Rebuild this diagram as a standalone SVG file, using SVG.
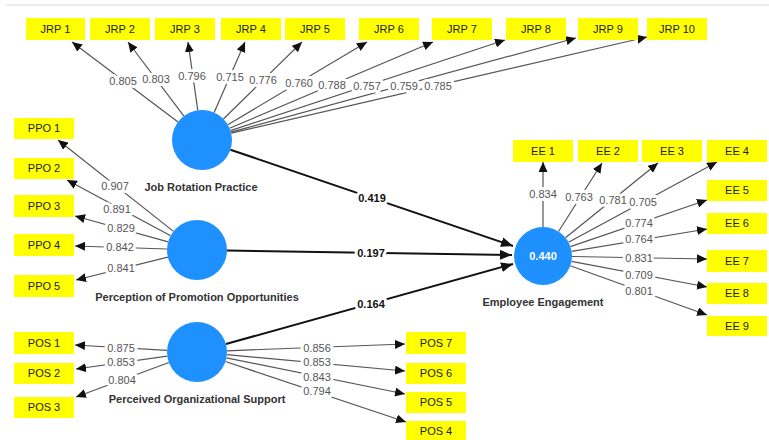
<svg xmlns="http://www.w3.org/2000/svg" width="769" height="440" viewBox="0 0 769 440">
<style>
.box{fill:#ffff00}
.bt{font-family:"Liberation Sans",Arial,sans-serif;font-size:11px;fill:#222;text-anchor:middle}
.lv{fill:#1e90ff}
.ln{font-family:"Liberation Sans",Arial,sans-serif;font-size:11px;font-weight:bold;fill:#333;text-anchor:middle}
.o{stroke:#555;stroke-width:1.2;fill:none;marker-end:url(#a)}
.s{stroke:#111;stroke-width:2;fill:none;marker-end:url(#b)}
.w{font-family:"Liberation Sans",Arial,sans-serif;font-size:11px;fill:#555;text-anchor:middle;stroke:#fff;stroke-width:6;stroke-linejoin:round;paint-order:stroke}
.wb{font-family:"Liberation Sans",Arial,sans-serif;font-size:11px;font-weight:bold;fill:#111;text-anchor:middle;stroke:#fff;stroke-width:6;stroke-linejoin:round;paint-order:stroke}
</style>
<defs>
<marker id="a" markerUnits="userSpaceOnUse" markerWidth="10" markerHeight="9" refX="10" refY="4.5" orient="auto"><path d="M0,0 L10,4.5 L0,9 z" fill="#111"/></marker>
<marker id="b" markerUnits="userSpaceOnUse" markerWidth="12" markerHeight="10" refX="12" refY="5" orient="auto"><path d="M0,0 L12,5 L0,10 z" fill="#111"/></marker>
</defs>
<rect width="769" height="440" fill="#fff"/>
<line x1="6" y1="5" x2="769" y2="5" stroke="#ececec" stroke-width="2"/>
<g id="connectors">
<line class="o" x1="178" y1="121.9" x2="72" y2="42"/>
<line class="o" x1="183.9" y1="116.1" x2="128" y2="42"/>
<line class="o" x1="197.8" y1="110.3" x2="188" y2="42"/>
<line class="o" x1="214.1" y1="112.5" x2="245" y2="42"/>
<line class="o" x1="223.4" y1="119" x2="302" y2="42"/>
<line class="o" x1="227.8" y1="124.7" x2="367" y2="42"/>
<line class="o" x1="229.6" y1="128.3" x2="433" y2="42"/>
<line class="o" x1="230.5" y1="130.6" x2="505" y2="40"/>
<line class="o" x1="230.9" y1="132.1" x2="576" y2="38"/>
<line class="o" x1="231.2" y1="133.2" x2="647" y2="37"/>
<line class="o" x1="173.5" y1="231.4" x2="58" y2="140"/>
<line class="o" x1="170.6" y1="235.8" x2="67" y2="180"/>
<line class="o" x1="168.1" y1="241.9" x2="75" y2="216"/>
<line class="o" x1="167" y1="249" x2="75" y2="246"/>
<line class="o" x1="167.9" y1="257.2" x2="76" y2="280"/>
<line class="o" x1="167.1" y1="350.3" x2="75" y2="345"/>
<line class="o" x1="167.3" y1="356.2" x2="76" y2="369"/>
<line class="o" x1="168.9" y1="362.5" x2="76" y2="397"/>
<line class="o" x1="227" y1="350.8" x2="405" y2="344"/>
<line class="o" x1="226.9" y1="354.7" x2="405" y2="371"/>
<line class="o" x1="226.4" y1="357.9" x2="405" y2="394"/>
<line class="o" x1="225.4" y1="361.5" x2="406" y2="422"/>
<line class="o" x1="543" y1="227" x2="543" y2="162"/>
<line class="o" x1="558.5" y1="231.5" x2="602" y2="163"/>
<line class="o" x1="565.5" y1="237.8" x2="658" y2="163"/>
<line class="o" x1="568.5" y1="242.2" x2="717" y2="162"/>
<line class="o" x1="570.4" y1="246.6" x2="707" y2="200"/>
<line class="o" x1="571.6" y1="251.3" x2="707" y2="229"/>
<line class="o" x1="572" y1="256.5" x2="707" y2="259"/>
<line class="o" x1="571.5" y1="261.4" x2="707" y2="287"/>
<line class="o" x1="570.3" y1="265.8" x2="707" y2="315"/>
<line class="s" x1="230.4" y1="149.7" x2="513" y2="246"/>
<line class="s" x1="227" y1="250.5" x2="512" y2="255"/>
<line class="s" x1="225.9" y1="344" x2="513" y2="264"/>
<text class="w" x="123" y="85">0.805</text>
<text class="w" x="156" y="83">0.803</text>
<text class="w" x="192" y="80">0.796</text>
<text class="w" x="230" y="81">0.715</text>
<text class="w" x="263" y="84">0.776</text>
<text class="w" x="299" y="87">0.760</text>
<text class="w" x="332" y="89">0.788</text>
<text class="w" x="367" y="90">0.757</text>
<text class="w" x="404" y="90">0.759</text>
<text class="w" x="438" y="90">0.785</text>
<text class="w" x="115" y="190">0.907</text>
<text class="w" x="117" y="213">0.891</text>
<text class="w" x="121" y="232">0.829</text>
<text class="w" x="120" y="251">0.842</text>
<text class="w" x="121" y="272">0.841</text>
<text class="w" x="121" y="352">0.875</text>
<text class="w" x="121" y="366">0.853</text>
<text class="w" x="122" y="384">0.804</text>
<text class="w" x="317" y="352">0.856</text>
<text class="w" x="317" y="366">0.853</text>
<text class="w" x="317" y="381">0.843</text>
<text class="w" x="317" y="395">0.794</text>
<text class="w" x="543" y="198">0.834</text>
<text class="w" x="579" y="201">0.763</text>
<text class="w" x="613" y="204">0.781</text>
<text class="w" x="643" y="206">0.705</text>
<text class="w" x="639" y="227">0.774</text>
<text class="w" x="639" y="243">0.764</text>
<text class="w" x="639" y="262">0.831</text>
<text class="w" x="639" y="279">0.709</text>
<text class="w" x="639" y="295">0.801</text>
<text class="wb" x="372" y="202">0.419</text>
<text class="wb" x="371" y="257">0.197</text>
<text class="wb" x="371" y="308">0.164</text>
</g>
<g id="JRP"><circle class="lv" cx="202" cy="140" r="30"/><text class="ln" x="201" y="191">Job Rotation Practice</text></g>
<g id="PPO"><circle class="lv" cx="197" cy="250" r="30"/><text class="ln" x="197" y="301">Perception of Promotion Opportunities</text></g>
<g id="POS"><circle class="lv" cx="197" cy="352" r="30"/><text class="ln" x="197" y="403">Perceived Organizational Support</text></g>
<g id="EE"><circle class="lv" cx="543" cy="256" r="29"/><text x="543" y="260" font-family="Liberation Sans,Arial,sans-serif" font-size="11" font-weight="bold" fill="#fff" text-anchor="middle">0.440</text><text class="ln" x="543" y="306">Employee Engagement</text></g>
<g id="JRP1"><rect class="box" x="26" y="18" width="59" height="22"/><text class="bt" x="55.5" y="33">JRP 1</text></g>
<g id="JRP2"><rect class="box" x="90" y="18" width="60" height="22"/><text class="bt" x="120" y="33">JRP 2</text></g>
<g id="JRP3"><rect class="box" x="155" y="18" width="60" height="22"/><text class="bt" x="185" y="33">JRP 3</text></g>
<g id="JRP4"><rect class="box" x="221" y="18" width="60" height="22"/><text class="bt" x="251" y="33">JRP 4</text></g>
<g id="JRP5"><rect class="box" x="285" y="18" width="60" height="22"/><text class="bt" x="315" y="33">JRP 5</text></g>
<g id="JRP6"><rect class="box" x="359" y="18" width="60" height="22"/><text class="bt" x="389" y="33">JRP 6</text></g>
<g id="JRP7"><rect class="box" x="432" y="18" width="60" height="22"/><text class="bt" x="462" y="33">JRP 7</text></g>
<g id="JRP8"><rect class="box" x="506" y="18" width="60" height="22"/><text class="bt" x="536" y="33">JRP 8</text></g>
<g id="JRP9"><rect class="box" x="578" y="18" width="60" height="22"/><text class="bt" x="608" y="33">JRP 9</text></g>
<g id="JRP10"><rect class="box" x="647" y="18" width="60" height="22"/><text class="bt" x="677" y="33">JRP 10</text></g>
<g id="PPO1"><rect class="box" x="14" y="118" width="60" height="21"/><text class="bt" x="44" y="132">PPO 1</text></g>
<g id="PPO2"><rect class="box" x="14" y="158" width="60" height="21"/><text class="bt" x="44" y="172">PPO 2</text></g>
<g id="PPO3"><rect class="box" x="14" y="195" width="60" height="22"/><text class="bt" x="44" y="210">PPO 3</text></g>
<g id="PPO4"><rect class="box" x="14" y="234" width="60" height="22"/><text class="bt" x="44" y="249">PPO 4</text></g>
<g id="PPO5"><rect class="box" x="14" y="275" width="60" height="22"/><text class="bt" x="44" y="290">PPO 5</text></g>
<g id="POS1"><rect class="box" x="14" y="332" width="60" height="22"/><text class="bt" x="44" y="347">POS 1</text></g>
<g id="POS2"><rect class="box" x="14" y="363" width="60" height="21"/><text class="bt" x="44" y="377">POS 2</text></g>
<g id="POS3"><rect class="box" x="14" y="397" width="60" height="21"/><text class="bt" x="44" y="411">POS 3</text></g>
<g id="POS7"><rect class="box" x="406" y="332" width="60" height="22"/><text class="bt" x="436" y="347">POS 7</text></g>
<g id="POS6"><rect class="box" x="406" y="363" width="60" height="21"/><text class="bt" x="436" y="377">POS 6</text></g>
<g id="POS5"><rect class="box" x="406" y="392" width="60" height="21"/><text class="bt" x="436" y="406">POS 5</text></g>
<g id="POS4"><rect class="box" x="406" y="421" width="60" height="21"/><text class="bt" x="436" y="435">POS 4</text></g>
<g id="EE1"><rect class="box" x="513" y="140" width="60" height="22"/><text class="bt" x="543" y="155">EE 1</text></g>
<g id="EE2"><rect class="box" x="578" y="140" width="60" height="22"/><text class="bt" x="608" y="155">EE 2</text></g>
<g id="EE3"><rect class="box" x="642" y="140" width="60" height="22"/><text class="bt" x="672" y="155">EE 3</text></g>
<g id="EE4"><rect class="box" x="707" y="140" width="60" height="22"/><text class="bt" x="737" y="155">EE 4</text></g>
<g id="EE5"><rect class="box" x="707" y="180" width="60" height="21"/><text class="bt" x="737" y="194">EE 5</text></g>
<g id="EE6"><rect class="box" x="707" y="213" width="60" height="21"/><text class="bt" x="737" y="227">EE 6</text></g>
<g id="EE7"><rect class="box" x="707" y="250" width="60" height="22"/><text class="bt" x="737" y="265">EE 7</text></g>
<g id="EE8"><rect class="box" x="707" y="283" width="60" height="21"/><text class="bt" x="737" y="297">EE 8</text></g>
<g id="EE9"><rect class="box" x="707" y="316" width="60" height="20"/><text class="bt" x="737" y="330">EE 9</text></g>
</svg>
